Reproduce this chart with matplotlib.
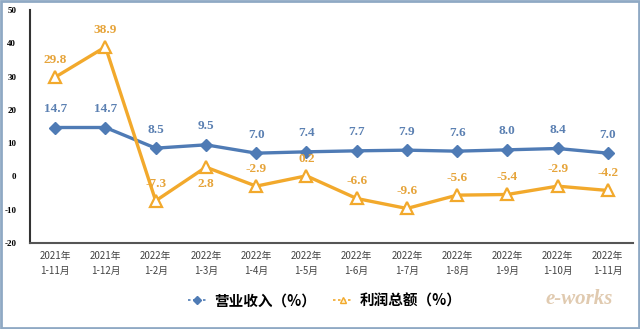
import numpy as np
import matplotlib.pyplot as plt
from matplotlib.patches import Rectangle
from matplotlib.lines import Line2D

plt.rcParams['font.family'] = ['Noto Sans CJK SC', 'DejaVu Sans']

months = ['2021年\n1-11月', '2021年\n1-12月', '2022年\n1-2月', '2022年\n1-3月',
          '2022年\n1-4月', '2022年\n1-5月', '2022年\n1-6月', '2022年\n1-7月',
          '2022年\n1-8月', '2022年\n1-9月', '2022年\n1-10月', '2022年\n1-11月']
revenue = [14.7, 14.7, 8.5, 9.5, 7.0, 7.4, 7.7, 7.9, 7.6, 8.0, 8.4, 7.0]
profit = [29.8, 38.9, -7.3, 2.8, -2.9, 0.2, -6.6, -9.6, -5.6, -5.4, -2.9, -4.2]
yticks = [-20, -10, 0, 10, 20, 30, 40, 50]
names = ['营业收入（%）', '利润总额（%）']

blue = '#4f7bb5'
orange = '#f2a92c'
blue_txt = '#5b80b2'
orange_txt = '#e6a43a'

fig = plt.figure(figsize=(6.4, 3.29), dpi=100)
ax = fig.add_axes([0.047, 0.261, 0.942, 0.709])
x = np.arange(len(months))

ax.plot(x, revenue, color=blue, lw=2.4, marker='D', ms=6, mfc=blue, mec=blue, zorder=3)
ax.plot(x, profit, color=orange, lw=2.4, marker='^', ms=8, mfc='white', mec=orange,
        mew=1.6, zorder=3)

serif = ['Liberation Serif', 'DejaVu Serif']
for xi, v in zip(x, revenue):
    ax.annotate(f'{v:.1f}', (xi, v), xytext=(0, 9), textcoords='offset points',
                ha='center', va='bottom', fontsize=9.5, color=blue_txt,
                family=serif, fontweight='bold')
for xi, v in zip(x, profit):
    dy = -8 if v == 2.8 else 8
    ax.annotate(f'{v:.1f}', (xi, v), xytext=(0, dy), textcoords='offset points',
                ha='center', va='top' if dy < 0 else 'bottom', fontsize=9.5,
                color=orange_txt, family=serif, fontweight='bold')

ax.set_xlim(-0.5, len(months) - 0.5)
ax.set_ylim(-20, 50)
ax.set_yticks(yticks)
ax.set_yticklabels([str(t) for t in yticks], family=serif, fontweight='bold', fontsize=6.5)
ax.set_xticks(x)
ax.set_xticklabels(months, fontsize=7, color='#444444', linespacing=1.5)
ax.tick_params(axis='both', length=0, pad=6)
ax.tick_params(axis='y', pad=10)
for s in ['top', 'right']:
    ax.spines[s].set_visible(False)
ax.spines['left'].set_color('#333333')
ax.spines['left'].set_linewidth(1.5)
ax.spines['bottom'].set_color('#555555')
ax.spines['bottom'].set_linewidth(1.5)

# small dotted legend keys
handles = [
    Line2D([], [], color=blue, lw=1.2, ls=(0, (1.5, 1.5)), marker='D', ms=4,
           mfc=blue, mec=blue),
    Line2D([], [], color=orange, lw=1.2, ls=(0, (1.5, 1.5)), marker='^', ms=5,
           mfc='#fff3d0', mec=orange, mew=1),
]
fig.legend(handles, names, loc='center', bbox_to_anchor=(0.507, 0.088), ncol=2,
           frameon=False, prop={'size': 10.5, 'weight': 'bold'}, columnspacing=1.2,
           handlelength=1.3, handletextpad=0.5)

fig.text(0.905, 0.09, 'e-works', fontsize=15, style='italic', fontweight='bold',
         color='#c8a070', alpha=0.55, ha='center', va='center', family=serif)

fig.patches.append(Rectangle((0.002, 0.003), 0.996, 0.994, transform=fig.transFigure,
                             fill=False, ec='#8fa9c4', lw=2))

fig.savefig('out.png', dpi=100)
